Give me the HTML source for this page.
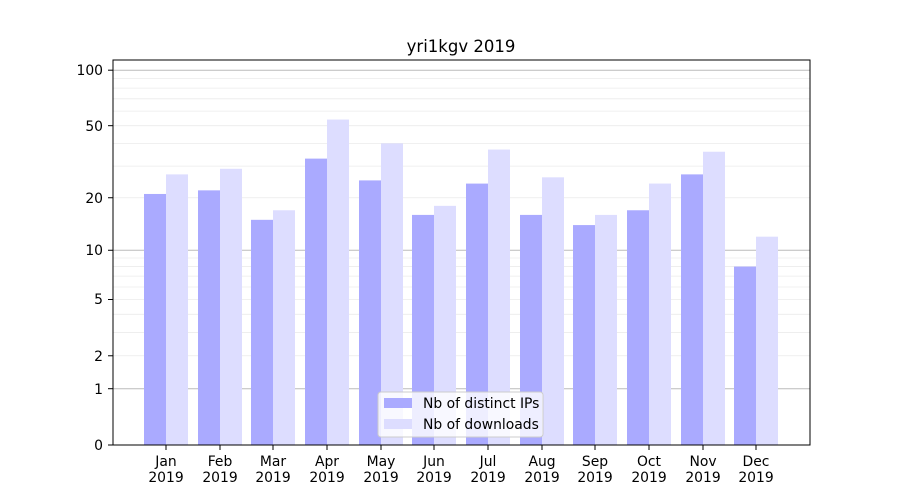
<!DOCTYPE html>
<html><head><meta charset="utf-8"><style>body{margin:0;background:#fff}svg{display:block}text{font-family:"DejaVu Sans","Liberation Sans",sans-serif;font-size:13.9px;fill:#000}</style></head>
<body>
<svg id="s" width="900" height="500" viewBox="0 0 900 500">
<rect x="0" y="0" width="900" height="500" fill="#fff"/>
<g id="grid"></g>
<g id="bars"></g>
<rect x="113" y="60" width="697" height="385" fill="none" stroke="#000" stroke-width="1"/>
<g id="ticks"></g>
<text x="461" y="52" text-anchor="middle" style="font-size:16.5px">yri1kgv 2019</text>
<g text-anchor="end">
<text x="103" y="75">100</text>
<text x="103" y="131">50</text>
<text x="103" y="203">20</text>
<text x="103" y="255">10</text>
<text x="103" y="304">5</text>
<text x="103" y="361">2</text>
<text x="103" y="394">1</text>
<text x="103" y="450">0</text>
</g>
<g text-anchor="middle">
<text x="166" y="466">Jan</text><text x="166" y="482">2019</text>
<text x="220" y="466">Feb</text><text x="220" y="482">2019</text>
<text x="273" y="466">Mar</text><text x="273" y="482">2019</text>
<text x="327" y="466">Apr</text><text x="327" y="482">2019</text>
<text x="381" y="466">May</text><text x="381" y="482">2019</text>
<text x="434" y="466">Jun</text><text x="434" y="482">2019</text>
<text x="488" y="466">Jul</text><text x="488" y="482">2019</text>
<text x="542" y="466">Aug</text><text x="542" y="482">2019</text>
<text x="595" y="466">Sep</text><text x="595" y="482">2019</text>
<text x="649" y="466">Oct</text><text x="649" y="482">2019</text>
<text x="703" y="466">Nov</text><text x="703" y="482">2019</text>
<text x="756" y="466">Dec</text><text x="756" y="482">2019</text>
</g>
<rect x="378" y="392" width="165" height="45" rx="3" fill="#fff" fill-opacity="0.8" stroke="#ccc"/>
<rect x="384" y="398" width="28" height="10" fill="#aaaaff"/>
<rect x="384" y="419" width="28" height="10" fill="#ddddff"/>
<text x="423" y="408">Nb of distinct IPs</text>
<text x="423" y="429">Nb of downloads</text>
</svg>
<script>
var ns="http://www.w3.org/2000/svg";
function Y(v){return 445-187*Math.log10(1+v);}
function el(p,t,a){var e=document.createElementNS(ns,t);for(var k in a)e.setAttribute(k,a[k]);document.getElementById(p).appendChild(e);}
var minor=[2,3,4,5,6,7,8,9,20,30,40,50,60,70,80,90];
minor.forEach(function(v){var y=Y(v);el('grid','line',{x1:113,x2:810,y1:y,y2:y,stroke:'#ebebeb','stroke-width':0.8});});
[1,10,100].forEach(function(v){var y=Y(v);el('grid','line',{x1:113,x2:810,y1:y,y2:y,stroke:'#bbbbbb','stroke-width':1});});
[0,1,2,5,10,20,50,100].forEach(function(v){var y=Y(v);el('ticks','line',{x1:108,x2:113,y1:y,y2:y,stroke:'#000'});});
var a=[21,22,15,33,25,16,24,16,14,17,27,8],b=[27,29,17,54,40,18,37,26,16,24,36,12];
var c=[166,220,273,327,381,434,488,542,595,649,703,756];
for(var i=0;i<12;i++){
el('bars','rect',{x:c[i]-22,y:Y(a[i]),width:22,height:445-Y(a[i]),fill:'#aaaaff'});
el('bars','rect',{x:c[i],y:Y(b[i]),width:22,height:445-Y(b[i]),fill:'#ddddff'});
el('ticks','line',{x1:c[i],x2:c[i],y1:445,y2:450,stroke:'#000'});
}
</script>
</body></html>
